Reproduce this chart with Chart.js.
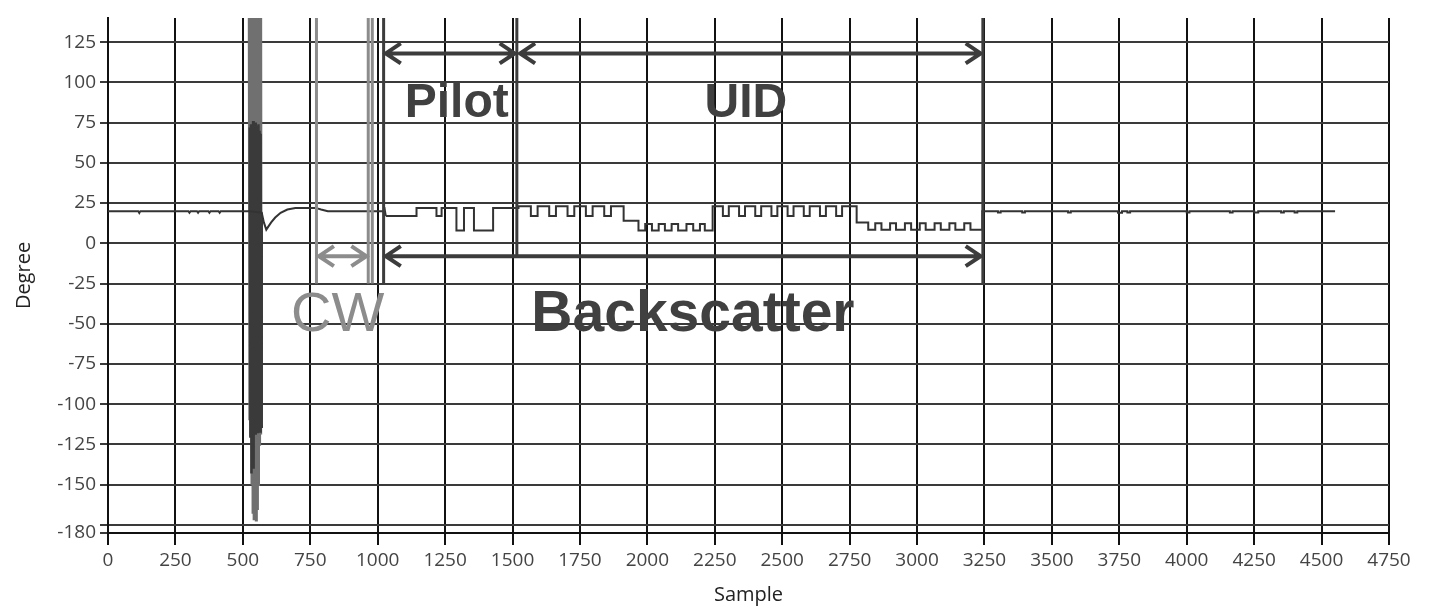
<!DOCTYPE html>
<html>
<head>
<meta charset="utf-8">
<script src="https://cdn.jsdelivr.net/npm/chart.js@4.4.0/dist/chart.umd.min.js"></script>
<style>
  html, body { margin: 0; padding: 0; background: #fff; }
</style>
</head>
<body>
<canvas id="phase" width="1443" height="614"></canvas>
<script>
// y tick values (the -175 line has no label)
const degreeTicks = [-180, -175, -150, -125, -100, -75, -50, -25, 0, 25, 50, 75, 100, 125];

// calm part before the tag answers (line), incl. the dip after the burst
const calmSample = [0, 112, 116, 120, 298, 302, 306, 330, 334, 338, 372, 376, 380, 410, 414, 418, 500, 524,
  570, 578, 587, 595, 605, 620, 640, 665, 695, 730, 770, 790, 815, 1000, 1022, 1026, 1030];
const calmDegree = [20, 20, 18.8, 20, 20, 19, 20, 20, 19, 20, 20, 19, 20, 20, 19, 20, 20, 20,
  19, 13, 8.5, 10.5, 13, 16, 19, 21, 22, 22, 22, 21, 20, 20, 20, 21, 17];

// burst around sample 550
const darkSample = [524, 526, 528, 530, 532, 534, 536, 538, 540, 542, 544, 546, 548, 550, 552, 554, 556, 558, 560, 562, 564, 566, 568, 570];
const darkDegree = [20, 72, -120, 74, -143, 70, -118, 76, -140, 72, -117, 75, -119, 73, -116, 71, -118, 74, -115, 70, -117, 68, -114, 19];
const lightSample = [523, 525, 527, 529, 531, 533, 535, 537, 539, 541, 543, 545, 547, 549, 551, 553, 555, 557, 559, 561, 563, 565, 567, 569];
const lightDegree = [140, -110, 140, -120, 140, -150, 140, -168, 140, -172, 140, -170, 140, -172, 140, -165, 140, -150, 140, -125, 140, -118, 140, -110];

// pilot + UID + tail (stepped)
const tagSample = [1030, 1144, 1218, 1237, 1292, 1320, 1357, 1428,
  1522, 1568, 1593, 1636, 1661, 1704, 1729, 1772, 1797, 1840, 1865, 1912, 1967,
  1992, 2017, 2042, 2065, 2090, 2114, 2145, 2170, 2195, 2213,
  2242, 2280, 2302, 2340, 2362, 2400, 2422, 2460, 2482, 2520, 2542, 2580, 2602, 2640, 2662, 2700, 2722, 2776, 2819,
  2845, 2868, 2900, 2922, 2955, 2978, 3010, 3032, 3065, 3088, 3120, 3142, 3175, 3198, 3242,
  3300, 3310, 3390, 3400, 3560, 3570, 3745, 3760, 3780, 3790, 4000, 4010, 4160, 4170, 4250, 4265, 4350, 4360, 4400, 4410, 4550];
const tagDegree = [17, 22, 17, 22, 8, 22, 8, 22,
  23, 17, 23, 17, 23, 17, 23, 17, 23, 17, 23, 14, 8,
  12, 8, 12, 8, 12, 8, 12, 8, 12, 8,
  23, 17, 23, 17, 23, 17, 23, 17, 23, 17, 23, 17, 23, 17, 23, 17, 23, 13, 8.5,
  12.5, 8.5, 12.5, 8.5, 12.5, 8.5, 12.5, 8.5, 12.5, 8.5, 12.5, 8.5, 12.5, 8.5, 20,
  19.2, 20, 19.2, 20, 19.2, 20, 19, 20, 19.2, 20, 19.2, 20, 19.2, 20, 19.2, 20, 19.2, 20, 19.2, 20, 20];

// annotation markers, in sample / degree
const markerLines = [
  { x: 773, to: -25, color: '#8c8c8c' },
  { x: 965, to: -25, color: '#8c8c8c' },
  { x: 980, to: -25, color: '#8c8c8c' },
  { x: 1022, to: -25, color: '#3c3c3c' },
  { x: 1516, to: -8, color: '#3c3c3c' },
  { x: 3244, to: -25, color: '#3c3c3c' }
];
const arrows = [
  { from: 1030, to: 1508, y: 118, color: '#3c3c3c' },
  { from: 1528, to: 3236, y: 118, color: '#3c3c3c' },
  { from: 1030, to: 3236, y: -8, color: '#3c3c3c' },
  { from: 782, to: 958, y: -8, color: '#8c8c8c' }
];
const labels = [
  { text: 'Pilot', x: 1293, y: 87, font: 'bold 48px "Liberation Sans", Arial', color: '#404040' },
  { text: 'UID', x: 2365, y: 87, font: 'bold 48px "Liberation Sans", Arial', color: '#404040' },
  { text: 'CW', x: 852, y: -45, font: '56px "Liberation Sans", Arial', color: '#8c8c8c' },
  { text: 'Backscatter', x: 2169, y: -45, font: 'bold 57px "Liberation Sans", Arial', color: '#404040' }
];

const toPoints = (xs, ys) => xs.map((x, i) => ({ x: x, y: ys[i] }));

const markers = {
  id: 'markers',
  afterDatasetsDraw(chart) {
    const { ctx, chartArea, scales: { x, y } } = chart;
    ctx.save();
    ctx.lineWidth = 3;
    markerLines.forEach(m => {
      ctx.strokeStyle = m.color;
      const px = x.getPixelForValue(m.x);
      ctx.beginPath();
      ctx.moveTo(px, chartArea.top);
      ctx.lineTo(px, y.getPixelForValue(m.to));
      ctx.stroke();
    });
    ctx.lineWidth = 4;
    arrows.forEach(a => {
      const x1 = x.getPixelForValue(a.from), x2 = x.getPixelForValue(a.to), py = y.getPixelForValue(a.y);
      ctx.strokeStyle = a.color;
      ctx.beginPath();
      ctx.moveTo(x1, py); ctx.lineTo(x2, py);
      ctx.moveTo(x1 + 15, py - 10); ctx.lineTo(x1, py); ctx.lineTo(x1 + 15, py + 10);
      ctx.moveTo(x2 - 15, py - 10); ctx.lineTo(x2, py); ctx.lineTo(x2 - 15, py + 10);
      ctx.stroke();
    });
    ctx.textAlign = 'center';
    ctx.textBaseline = 'middle';
    labels.forEach(l => {
      ctx.font = l.font;
      ctx.fillStyle = l.color;
      ctx.fillText(l.text, x.getPixelForValue(l.x), y.getPixelForValue(l.y));
    });
    ctx.restore();
  }
};

new Chart(document.getElementById('phase'), {
  type: 'line',
  data: {
    datasets: [
      { data: toPoints(calmSample, calmDegree), borderColor: '#333', borderWidth: 2, pointRadius: 0, order: 1 },
      { data: toPoints(tagSample, tagDegree), borderColor: '#333', borderWidth: 2, pointRadius: 0, stepped: true, order: 1 },
      { data: toPoints(darkSample, darkDegree), borderColor: '#3a3a3a', borderWidth: 2.5, pointRadius: 0, order: 2 },
      { data: toPoints(lightSample, lightDegree), borderColor: '#707070', borderWidth: 2.5, pointRadius: 0, order: 3 }
    ]
  },
  options: {
    responsive: false,
    animation: false,
    events: [],
    layout: { padding: { top: 18, right: 54, left: 0, bottom: 0 } },
    plugins: { legend: { display: false }, tooltip: { enabled: false } },
    scales: {
      x: {
        type: 'linear', min: 0, max: 4750,
        afterFit: s => { s.height = 81; },
        ticks: { stepSize: 250, autoSkip: false, maxRotation: 0, padding: 4, color: '#444',
          font: { family: '"Open Sans"', size: 19 }, callback: v => String(v) },
        grid: { color: '#111', lineWidth: 2, tickLength: 12 },
        border: { color: '#111', width: 2 },
        title: { display: true, text: 'Sample', color: '#222', font: { family: '"Open Sans"', size: 20 }, padding: { bottom: 7 } }
      },
      y: {
        min: -180, max: 140,
        afterFit: s => { s.width = 108; },
        afterBuildTicks: s => { s.ticks = degreeTicks.map(v => ({ value: v })); },
        ticks: { padding: 4, color: '#444', font: { family: '"Open Sans"', size: 19 },
          callback: v => (v === -175 ? '' : String(v)) },
        grid: { color: '#3a3a3a', lineWidth: 2, tickLength: 8 },
        border: { color: '#111', width: 2 },
        title: { display: true, text: 'Degree', color: '#222', font: { family: '"Open Sans"', size: 20 }, padding: { top: 12 } }
      }
    }
  },
  plugins: [markers]
});
</script>
</body>
</html>
